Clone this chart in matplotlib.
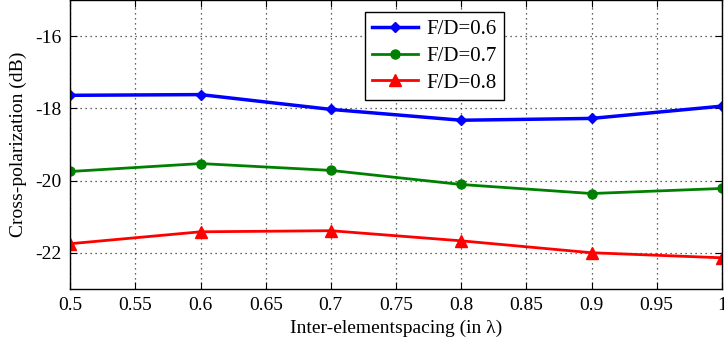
import matplotlib
matplotlib.use("Agg")
import matplotlib.pyplot as plt

plt.rcParams['font.family'] = ['Liberation Serif', 'DejaVu Serif']
plt.rcParams['axes.unicode_minus'] = False

# data
spacing = [0.5, 0.6, 0.7, 0.8, 0.9, 1.0]
fd06 = [-17.64, -17.62, -18.03, -18.33, -18.28, -17.94]
fd07 = [-19.75, -19.53, -19.72, -20.11, -20.36, -20.22]
fd08 = [-21.75, -21.42, -21.39, -21.67, -22.00, -22.14]
xticks = [0.5, 0.55, 0.6, 0.65, 0.7, 0.75, 0.8, 0.85, 0.9, 0.95, 1.0]
xticklabels = ["0.5", "0.55", "0.6", "0.65", "0.7", "0.75", "0.8", "0.85", "0.9", "0.95", "1"]
yticks = [-22, -20, -18, -16]

fig = plt.figure(figsize=(7.24, 3.48), dpi=100)
ax = fig.add_axes([0.097, 0.17, 0.9, 0.83])

ax.plot(spacing, fd06, color="blue", lw=2.5, marker="D", ms=5.5, label="F/D=0.6")
ax.plot(spacing, fd07, color="green", lw=2, marker="o", ms=6.5, label="F/D=0.7")
ax.plot(spacing, fd08, color="red", lw=2, marker="^", ms=8, label="F/D=0.8")

ax.set_xlim(0.5, 1.0)
ax.set_ylim(-23, -15)
ax.set_xticks(xticks)
ax.set_xticklabels(xticklabels)
ax.set_yticks(yticks)
ax.tick_params(direction="in", labelsize=14, top=True, right=True, length=5, pad=6)
ax.grid(True, linestyle=(0, (1, 3)), color="#333333", linewidth=0.9)
for s in ax.spines.values():
    s.set_linewidth(1)

ax.set_xlabel("Inter-elementspacing (in λ)", fontsize=14, labelpad=4)
ax.set_ylabel("Cross-polarization (dB)", fontsize=14, labelpad=6)

leg = ax.legend(loc="upper left", bbox_to_anchor=(0.452, 0.958), borderaxespad=0,
                fontsize=15, fancybox=False, edgecolor="black", framealpha=1,
                handlelength=2.2, handletextpad=0.4, borderpad=0.35, labelspacing=0.35)
leg.get_frame().set_linewidth(1)

fig.savefig("out.png", dpi=100)
